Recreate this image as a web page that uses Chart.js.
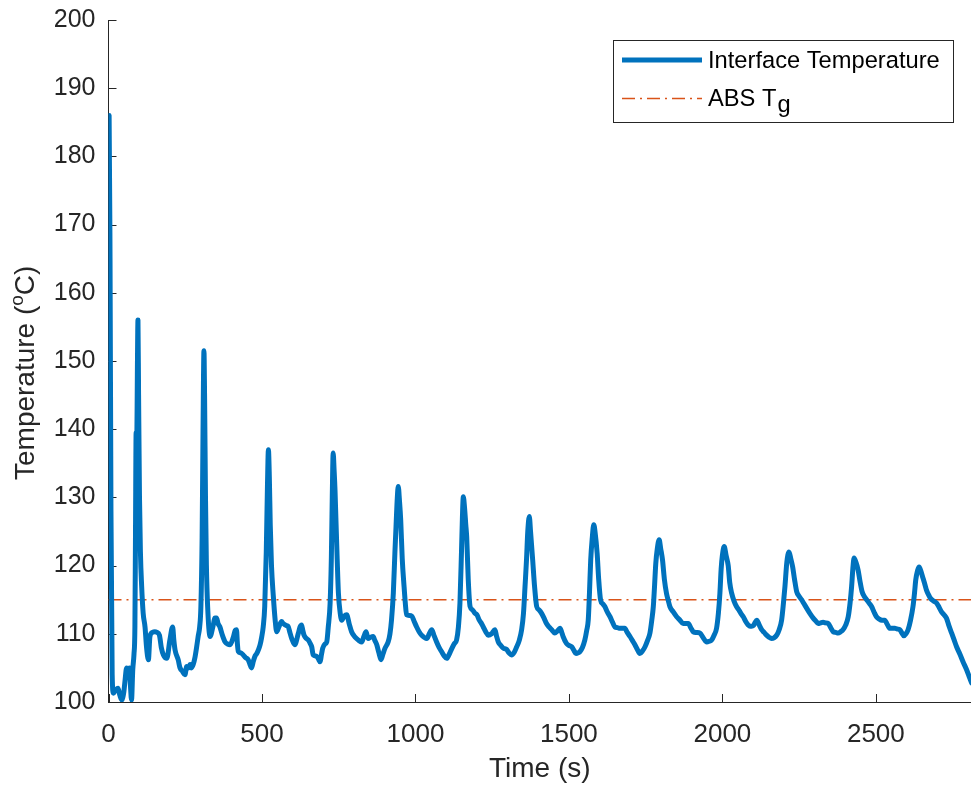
<!DOCTYPE html>
<html><head><meta charset="utf-8">
<script src="https://cdn.jsdelivr.net/npm/chart.js@4/dist/chart.umd.min.js"></script>
<style>html,body{margin:0;padding:0;background:#fff;}#wrap{width:971px;height:786px;}</style>
</head><body><div id="wrap"><canvas id="c" width="971" height="786"></canvas></div>
<script>
// ---- data ----
const timeSeconds = [0,2,5,8,12,16,24,31,37,43,50,54,59,64,68,72,75,79,83,86,88,90,92,94,96,98,101,104,108,113,119,124,130,135,143,151,158,166,172,179,190,200,209,213,217,227,233,241,249,255,260,266,270,276,282,287,292,297,301,305,308,311,313,316,319,323,331,340,347,352,357,363,371,380,388,396,406,413,417,420,423,431,439,447,455,461,466,472,478,483,489,494,499,504,509,514,518,521,524,527,531,537,543,548,555,564,569,580,585,591,597,607,618,624,629,633,637,645,651,657,662,667,678,684,689,694,698,705,711,716,722,726,729,732,735,738,741,745,749,755,760,768,776,784,792,800,808,816,825,832,839,846,854,862,868,874,881,888,894,901,911,917,922,928,933,937,941,944,948,952,957,963,967,971,980,988,996,1004,1012,1020,1028,1037,1045,1053,1061,1069,1077,1085,1093,1102,1110,1118,1126,1134,1140,1145,1150,1153,1156,1160,1164,1167,1172,1178,1186,1194,1200,1208,1214,1221,1229,1237,1248,1259,1264,1270,1278,1286,1297,1305,1313,1322,1330,1338,1346,1352,1357,1362,1366,1371,1375,1382,1388,1395,1403,1411,1419,1427,1435,1444,1454,1462,1471,1476,1481,1492,1500,1509,1516,1523,1530,1536,1544,1552,1558,1563,1567,1571,1576,1581,1585,1592,1597,1603,1610,1617,1625,1634,1642,1650,1658,1666,1674,1682,1690,1699,1707,1715,1723,1731,1740,1748,1756,1764,1770,1775,1779,1783,1788,1794,1799,1805,1811,1818,1823,1829,1840,1851,1862,1872,1880,1889,1897,1905,1916,1927,1938,1949,1957,1965,1973,1981,1987,1992,1996,2000,2006,2012,2019,2024,2030,2038,2046,2055,2063,2068,2076,2084,2090,2095,2101,2106,2112,2120,2128,2136,2144,2152,2160,2168,2177,2185,2193,2199,2204,2210,2217,2223,2229,2235,2242,2250,2258,2266,2274,2285,2296,2304,2312,2320,2328,2336,2345,2353,2361,2369,2377,2385,2393,2402,2410,2416,2421,2425,2429,2435,2442,2448,2455,2462,2470,2478,2486,2494,2502,2510,2519,2529,2537,2546,2554,2562,2570,2578,2585,2591,2598,2605,2613,2621,2626,2630,2636,2641,2648,2654,2660,2665,2672,2678,2688,2698,2706,2714,2722,2730,2738,2747,2755,2763,2774,2784,2795,2806,2812];
const interfaceTemp = [152,186,165,128,104,101.3,101.8,102,101,100.3,101.5,103.2,105,104.5,105,102,100.3,104.7,107,111,125,139.5,137,148,156,145,130,122,117,113,111,108,106.2,109.6,110.2,110.3,110.2,109.8,108,106.9,106.4,109.1,111,109,107.6,106.2,105,104.5,104,105.2,105,105.5,105,105.5,106.6,108,109.6,111,114,124,140,151.5,145,130,120,114,109.6,111,112.3,112.3,111.5,111,109.8,108.8,108.5,108.4,109.4,110.5,110.6,108.5,107.4,107.2,106.9,106.5,106.2,105.5,105,106,106.8,107.1,107.7,108.4,109.5,111,114,122,132,137,133,126,120,115.5,112,110.3,111,111.8,111.5,111.2,111.1,110.2,109.3,108.4,110,111,111.3,110.5,109.8,109.3,109.1,108.6,108.1,106.9,106.7,106.3,105.9,107,107.9,108.5,108.8,111,114.5,121,130,136.5,134,131,126.7,121,116,113,112,112.6,112.8,111.5,110.3,109.7,109.3,109,108.8,109.6,110.3,109.3,109.5,109.6,109,108.4,107.2,106.2,107,107.9,108.8,110,112,116,121.8,126,130,131.6,129.5,126.7,121,116.9,114.5,112.8,112.7,112.6,111.8,111,110.3,109.8,109.5,109.3,110,110.6,109.7,108.8,108,107.4,106.8,106.4,107,107.8,108.5,109.1,111,114.5,122,127,130.1,128.5,126,124.2,118,114,113.5,113,112.8,112,111.6,111,110.3,109.8,110,110.6,109.7,108.8,108.3,107.9,107.7,107.2,106.9,107.3,108.1,109,110.6,113,116.9,121,125,127.2,125,120.8,117,114,113.5,113,112.3,111.5,111,110.6,110.1,110.4,110.8,110.3,109.6,108.6,108.3,108.1,107.6,107.1,107.2,107.4,108,109.1,110.5,112,116,120.8,124,126,125,121.8,118,115,114.4,114,113.2,112.5,111.7,111,110.9,110.8,110.8,110.8,110.2,109.6,109,108.4,107.7,107.1,107.5,108.1,109,110.1,112,114,117,120.3,122.5,123.8,122.5,120.8,118,115.9,115,114,113.2,112.5,112,111.5,111.5,111.5,110.9,110.3,110.2,110.1,109.4,108.8,108.9,109.1,109.8,110.8,113,116,119.5,121.5,122.8,121.5,120,117.5,116,114.8,114,113.4,112.8,112.5,111.8,111.3,111.1,111.1,111.2,111.6,112,111.3,110.6,110.2,109.8,109.5,109.3,109.4,109.8,110.6,112,114.5,117,120.5,122,121,119.8,118,116.2,115.5,115,114.4,113.8,113,112.3,111.9,111.5,111.6,111.7,111.6,111.5,110.9,110.3,110.2,110.1,110.3,110.6,111.3,112.5,114.5,116.9,119.5,121.1,120.5,119.4,117.8,116.2,115.5,115,114.5,114,113.2,112.5,112.2,112,112,111.4,110.8,110.8,110.8,110.7,110.6,110.1,109.7,110,110.6,112,114,116,117.9,119.3,119.8,119,118.1,117.2,116.4,115.7,115.2,114.8,114.5,113.9,113.2,112.8,112.3,111.2,110.1,109.1,108.1,107,105.9,104.8,103.5,102.8];
const tgTimes = [0, 2812];
const tgValue = 115;
const xTickValues = [0, 500, 1000, 1500, 2000, 2500];
const yTickValues = [100, 110, 120, 130, 140, 150, 160, 170, 180, 190, 200];
const seriesLabels = ['Interface Temperature', 'ABS T'];
const xAxisTitle = 'Time (s)';

const FONT = "'Liberation Sans', Arial, sans-serif";
const AX = '#262626';
const BLUE = '#0072BD';
const ORANGE = '#D95319';
const TG_DASH = [13, 5, 2, 5];

const tempPoints = timeSeconds.map((t, i) => ({x: t, y: interfaceTemp[i]}));
const tgPoints = tgTimes.map(t => ({x: t, y: tgValue}));

const axisDecor = {
  id: 'axisDecor',
  beforeDatasetsDraw(chart) {
    const {ctx, chartArea: ca, scales: {x, y}} = chart;
    ctx.save();
    ctx.strokeStyle = AX; ctx.lineWidth = 1;
    ctx.beginPath();
    yTickValues.forEach(v => { const p = Math.round(y.getPixelForValue(v)) + 0.5; ctx.moveTo(ca.left, p); ctx.lineTo(ca.left + 8, p); });
    xTickValues.forEach(v => { const p = Math.round(x.getPixelForValue(v)) + 0.5; ctx.moveTo(p, ca.bottom); ctx.lineTo(p, ca.bottom - 8); });
    ctx.stroke();
    ctx.restore();
  },
  afterDraw(chart) {
    const {ctx} = chart;
    ctx.save();
    ctx.fillStyle = AX;
    ctx.translate(34, 480);
    ctx.rotate(-Math.PI / 2);
    ctx.textBaseline = 'alphabetic';
    ctx.textAlign = 'left';
    let u = 0;
    ctx.font = `28px ${FONT}`;
    const p1 = 'Temperature (';
    ctx.fillText(p1, u, 0); u += ctx.measureText(p1).width;
    ctx.font = `19px ${FONT}`;
    ctx.fillText('o', u, -11); u += ctx.measureText('o').width;
    ctx.font = `28px ${FONT}`;
    ctx.fillText('C)', u, 0);
    ctx.restore();

    const ds = chart.data.datasets;
    ctx.save();
    ctx.fillStyle = '#fff';
    ctx.fillRect(613.5, 40.5, 340, 82);
    ctx.strokeStyle = AX; ctx.lineWidth = 1;
    ctx.strokeRect(613.5, 40.5, 340, 82);
    ctx.lineCap = 'butt';
    ctx.strokeStyle = ds[0].borderColor; ctx.lineWidth = ds[0].borderWidth;
    ctx.beginPath(); ctx.moveTo(622, 60); ctx.lineTo(702, 60); ctx.stroke();
    ctx.strokeStyle = ds[1].borderColor; ctx.lineWidth = ds[1].borderWidth;
    ctx.setLineDash(ds[1].borderDash);
    ctx.beginPath(); ctx.moveTo(622, 98.5); ctx.lineTo(702, 98.5); ctx.stroke();
    ctx.setLineDash([]);
    ctx.fillStyle = '#000';
    ctx.font = `23.7px ${FONT}`;
    ctx.textBaseline = 'alphabetic';
    ctx.fillText(ds[0].label, 708, 67.5);
    ctx.fillText(ds[1].label, 708, 106);
    const w = ctx.measureText(ds[1].label).width;
    ctx.fillText('g', 708 + w + 1, 112);
    ctx.restore();
  }
};

new Chart(document.getElementById('c'), {
  type: 'line',
  data: {
    datasets: [
      {label: seriesLabels[0], data: tempPoints, borderColor: BLUE, borderWidth: 5, pointRadius: 0, cubicInterpolationMode: 'monotone', fill: false, borderJoinStyle: 'round', borderCapStyle: 'round'},
      {label: seriesLabels[1], data: tgPoints, borderColor: ORANGE, borderWidth: 1.5, borderDash: TG_DASH, pointRadius: 0, fill: false}
    ]
  },
  options: {
    responsive: false,
    animation: false,
    devicePixelRatio: 1,
    layout: {padding: {top: 20, left: 0, right: 0, bottom: 0}},
    plugins: {legend: {display: false}, tooltip: {enabled: false}},
    scales: {
      x: {
        type: 'linear', min: 0, max: 2810,
        afterBuildTicks: s => { s.ticks = xTickValues.map(v => ({value: v})); },
        afterFit: s => { s.height = 84; s.paddingLeft = 0; s.paddingRight = 0; },
        grid: {display: false, drawTicks: false},
        border: {display: true, color: AX, width: 1},
        ticks: {color: AX, font: {family: FONT, size: 26}, padding: 17, maxRotation: 0, autoSkip: false, callback: v => String(v)},
        title: {display: true, text: xAxisTitle, color: AX, font: {family: FONT, size: 28}, padding: {top: 0, bottom: 0}}
      },
      y: {
        type: 'linear', min: 100, max: 200,
        afterBuildTicks: s => { s.ticks = yTickValues.map(v => ({value: v})); },
        afterFit: s => { s.width = 108.5; s.paddingTop = 0; s.paddingBottom = 0; },
        grid: {display: false, drawTicks: false},
        border: {display: true, color: AX, width: 1},
        ticks: {color: AX, font: {family: FONT, size: 25}, padding: 13, autoSkip: false, callback: v => String(v)}
      }
    }
  },
  plugins: [axisDecor]
});
</script></body></html>
